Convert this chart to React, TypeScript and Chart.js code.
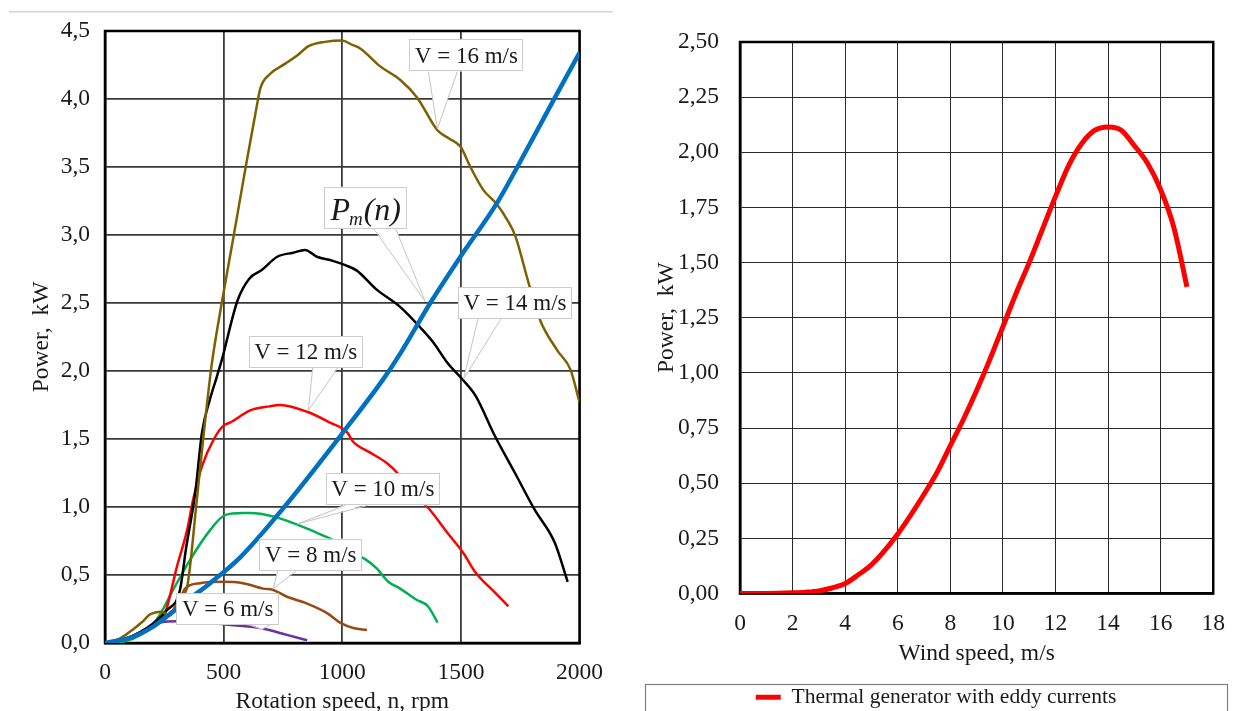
import React, { useEffect, useRef } from 'react';
import { Chart, registerables } from 'chart.js';

Chart.register(...registerables);

const FONT = "'Liberation Serif', 'Times New Roman', serif";
const TEXT = '#1a1a1a';

// ---------- Left chart: power vs rotation speed ----------
const rpmV16 = [0, 60, 118, 160, 190, 240, 270, 295, 325, 346, 388, 420, 450, 492, 543, 593, 640, 655, 693, 760, 810, 860, 927, 1000, 1040, 1077, 1160, 1245, 1316, 1401, 1450, 1498, 1540, 1595, 1650, 1696, 1730, 1785, 1835, 1907, 1962, 2000];
const powV16 = [0, 0.03, 0.10, 0.16, 0.21, 0.23, 0.20, 0.26, 0.35, 0.41, 1.07, 1.60, 2.05, 2.50, 3.00, 3.50, 3.95, 4.08, 4.18, 4.26, 4.32, 4.39, 4.42, 4.43, 4.40, 4.37, 4.24, 4.14, 4.01, 3.77, 3.71, 3.65, 3.50, 3.33, 3.23, 3.11, 2.99, 2.65, 2.37, 2.15, 2.01, 1.77];

const rpmV14 = [0, 100, 200, 260, 316, 342, 380, 409, 442, 470, 492, 559, 609, 659, 726, 793, 843, 893, 960, 1010, 1060, 1144, 1245, 1329, 1384, 1443, 1511, 1561, 1644, 1728, 1811, 1895, 1950];
const powV14 = [0, 0.04, 0.14, 0.24, 0.39, 0.70, 1.10, 1.55, 1.79, 1.95, 2.08, 2.52, 2.68, 2.74, 2.84, 2.87, 2.89, 2.84, 2.81, 2.78, 2.74, 2.60, 2.47, 2.32, 2.21, 2.06, 1.93, 1.82, 1.52, 1.25, 0.98, 0.74, 0.45];

const rpmV12 = [0, 100, 200, 253, 303, 346, 371, 409, 459, 501, 527, 612, 693, 738, 852, 949, 1020, 1046, 1118, 1190, 1232, 1300, 1359, 1443, 1511, 1561, 1644, 1700];
const powV12 = [0, 0.04, 0.13, 0.22, 0.56, 0.83, 1.05, 1.30, 1.50, 1.60, 1.62, 1.71, 1.74, 1.75, 1.70, 1.62, 1.55, 1.48, 1.40, 1.32, 1.25, 1.09, 1.00, 0.81, 0.66, 0.52, 0.37, 0.27];

const rpmV10 = [0, 80, 150, 200, 232, 287, 358, 443, 506, 582, 612, 709, 810, 920, 979, 1040, 1093, 1144, 1194, 1244, 1311, 1361, 1402];
const powV10 = [0, 0.01, 0.06, 0.13, 0.21, 0.39, 0.61, 0.83, 0.94, 0.955, 0.955, 0.93, 0.87, 0.79, 0.74, 0.66, 0.62, 0.55, 0.45, 0.40, 0.32, 0.27, 0.15];

const rpmV8 = [0, 100, 200, 260, 300, 338, 401, 498, 582, 667, 709, 767, 852, 936, 991, 1046, 1104];
const powV8 = [0, 0.03, 0.12, 0.20, 0.27, 0.40, 0.44, 0.45, 0.44, 0.40, 0.39, 0.34, 0.29, 0.22, 0.15, 0.11, 0.095];

const rpmV6 = [0, 100, 170, 232, 303, 400, 540, 654, 767, 852];
const powV6 = [0, 0.04, 0.10, 0.15, 0.16, 0.155, 0.13, 0.11, 0.06, 0.02];

const rpmPm = [0, 118, 203, 287, 360, 443, 570, 751, 1013, 1173, 1245, 1371, 1498, 1654, 1738, 1890, 2000];
const powPm = [0, 0.045, 0.12, 0.23, 0.33, 0.44, 0.63, 0.99, 1.57, 1.94, 2.13, 2.50, 2.84, 3.24, 3.50, 3.99, 4.34];

const calloutLabels = ['V = 16 m/s', 'Pm(n)', 'V = 14 m/s', 'V = 12 m/s', 'V = 10 m/s', 'V = 8 m/s', 'V = 6 m/s'];
const calloutBoxRpm = [1523, 1099, 1728, 846, 1171, 867, 517];
const calloutBoxPow = [4.32, 3.20, 2.50, 2.14, 1.13, 0.65, 0.25];
const calloutTipRpm = [1401, 1350, 1511, 857, 810, 709, 662];
const calloutTipPow = [3.78, 2.51, 1.94, 1.71, 0.875, 0.40, 0.10];

// ---------- Right chart: power vs wind speed ----------
const windSpeed = [0, 1, 2, 2.5, 3, 3.5, 4, 4.5, 5, 6, 7, 7.5, 8, 8.5, 9, 9.5, 10, 10.5, 11, 11.5, 12, 12.5, 13, 13.5, 14, 14.5, 15, 15.5, 16, 16.5, 17];
const windPower = [0, 0, 0.003, 0.006, 0.012, 0.025, 0.045, 0.085, 0.13, 0.27, 0.45, 0.55, 0.67, 0.79, 0.92, 1.06, 1.21, 1.36, 1.50, 1.65, 1.80, 1.94, 2.04, 2.10, 2.115, 2.10, 2.03, 1.95, 1.83, 1.66, 1.39];
const windSeriesName = 'Thermal generator with eddy currents';

// styling for callout wedges (px offsets of the wedge base from box centre)
const wedgeBase: [number, number][] = [[-38, -9], [8, 30], [-37, -14], [7, 32], [-37, -15], [-33, -14], [22, 42]];

const pts = (xs: number[], ys: number[]) => xs.map((x, i) => ({ x, y: ys[i] }));

const frameLeft = {
  id: 'frameLeft',
  beforeDraw(chart: any) {
    const { ctx } = chart;
    ctx.save();
    ctx.fillStyle = '#d6d6d6';
    ctx.fillRect(9, 11, 604, 1.5);
    ctx.restore();
  },
  beforeDatasetsDraw(chart: any) {
    const { ctx, chartArea: a } = chart;
    ctx.save();
    ctx.strokeStyle = '#000';
    ctx.lineWidth = 2.5;
    ctx.strokeRect(a.left, a.top, a.right - a.left, a.bottom - a.top);
    ctx.restore();
  },
  afterDatasetsDraw(chart: any) {
    const { ctx, scales } = chart;
    const x = scales.x, y = scales.y;
    ctx.save();
    calloutLabels.forEach((label, i) => {
      const cx = x.getPixelForValue(calloutBoxRpm[i]);
      const cy = y.getPixelForValue(calloutBoxPow[i]);
      const tx = x.getPixelForValue(calloutTipRpm[i]);
      const ty = y.getPixelForValue(calloutTipPow[i]);
      const isPm = label === 'Pm(n)';
      let w: number, h: number;
      const big = `italic 32px ${FONT}`;
      const sub = `italic 19px ${FONT}`;
      if (isPm) {
        ctx.font = big;
        const wP = ctx.measureText('P').width;
        const wN = ctx.measureText('(n)').width;
        ctx.font = sub;
        const wM = ctx.measureText('m').width;
        w = wP + wM + wN + 12;
        h = 42;
      } else {
        ctx.font = `23px ${FONT}`;
        w = ctx.measureText(label).width + 11;
        h = 32;
      }
      const left = cx - w / 2, top = cy - h / 2, bottom = cy + h / 2;
      const [o1, o2] = wedgeBase[i];
      ctx.beginPath();
      ctx.moveTo(cx + o1, bottom - 1);
      ctx.lineTo(tx, ty);
      ctx.lineTo(cx + o2, bottom - 1);
      ctx.closePath();
      ctx.fillStyle = '#fff';
      ctx.fill();
      ctx.beginPath();
      ctx.moveTo(cx + o1, bottom);
      ctx.lineTo(tx, ty);
      ctx.lineTo(cx + o2, bottom);
      ctx.strokeStyle = '#c4c4c4';
      ctx.lineWidth = 1;
      ctx.stroke();
      ctx.fillStyle = '#fff';
      ctx.fillRect(left, top, w, h);
      ctx.strokeStyle = '#cccccc';
      ctx.strokeRect(Math.round(left) + 0.5, Math.round(top) + 0.5, Math.round(w) - 1, Math.round(h) - 1);
      ctx.fillStyle = TEXT;
      ctx.textBaseline = 'middle';
      if (isPm) {
        let px = left + 6;
        const base = cy + 2;
        ctx.textBaseline = 'alphabetic';
        ctx.font = big;
        ctx.fillText('P', px, base + 10);
        px += ctx.measureText('P').width;
        ctx.font = sub;
        ctx.fillText('m', px - 1, base + 15);
        px += ctx.measureText('m').width;
        ctx.font = big;
        ctx.fillText('(n)', px, base + 10);
      } else {
        ctx.textAlign = 'center';
        ctx.fillText(label, cx, cy + 1);
        ctx.textAlign = 'left';
      }
    });
    ctx.restore();
  },
};

const frameRight = {
  id: 'frameRight',
  afterLayout(chart: any) {
    const lg = chart.legend;
    if (lg) {
      lg.left = 25;
      lg.right = 607;
    }
  },
  beforeDatasetsDraw(chart: any) {
    const { ctx, chartArea: a } = chart;
    ctx.save();
    ctx.strokeStyle = '#000';
    ctx.lineWidth = 2.5;
    ctx.strokeRect(a.left, a.top, a.right - a.left, a.bottom - a.top);
    ctx.restore();
  },
  afterDraw(chart: any) {
    const { ctx } = chart;
    const lg = chart.legend;
    ctx.save();
    ctx.strokeStyle = '#7f7f7f';
    ctx.lineWidth = 1.2;
    ctx.strokeRect(25.5, Math.round(lg.top) + 0.5, 582, 80);
    ctx.restore();
  },
};

const tickFont = { family: FONT, size: 23.5 };

export default function App() {
  const leftRef = useRef<HTMLCanvasElement>(null);
  const rightRef = useRef<HTMLCanvasElement>(null);

  useEffect(() => {
    const line = (label: string, xs: number[], ys: number[], color: string, width: number, order: number) => ({
      label,
      data: pts(xs, ys),
      borderColor: color,
      backgroundColor: color,
      borderWidth: width,
      pointRadius: 0,
      cubicInterpolationMode: 'monotone' as const,
      order,
    });

    const left = new Chart(leftRef.current!, {
      type: 'line',
      data: {
        datasets: [
          line('Pm(n)', rpmPm, powPm, '#0070C0', 4.5, 0),
          line('V = 16 m/s', rpmV16, powV16, '#7F6000', 2.5, 1),
          line('V = 14 m/s', rpmV14, powV14, '#000000', 2.5, 1),
          line('V = 12 m/s', rpmV12, powV12, '#FF0000', 2.5, 1),
          line('V = 10 m/s', rpmV10, powV10, '#00B050', 2.5, 1),
          line('V = 8 m/s', rpmV8, powV8, '#984A14', 2.5, 1),
          line('V = 6 m/s', rpmV6, powV6, '#7030A0', 2.5, 1),
        ],
      },
      options: {
        animation: false,
        responsive: false,
        layout: { padding: { top: 31, right: 20, left: 0, bottom: 0 } },
        plugins: { legend: { display: false }, tooltip: { enabled: false } },
        scales: {
          x: {
            type: 'linear',
            min: 0,
            max: 2000,
            ticks: { stepSize: 500, padding: 16, font: tickFont, color: TEXT, maxRotation: 0, callback: (v: any) => String(v) },
            grid: { color: '#3a3a3a', lineWidth: 1.8, drawTicks: false },
            border: { display: true, color: '#000', width: 2.5 },
            title: { display: true, text: 'Rotation speed, n, rpm', font: tickFont, color: TEXT, padding: { top: 0, bottom: 4 } },
            afterFit: (s: any) => { s.height = 77; },
          },
          y: {
            type: 'linear',
            min: 0,
            max: 4.5,
            ticks: { stepSize: 0.5, padding: 15, font: tickFont, color: TEXT, callback: (v: any) => Number(v).toFixed(1).replace('.', ',') },
            grid: { color: '#3a3a3a', lineWidth: 1.8, drawTicks: false },
            border: { display: true, color: '#000', width: 2.5 },
            title: { display: true, text: 'Power,  kW', font: tickFont, color: TEXT, padding: { top: 28, bottom: 0 } },
            afterFit: (s: any) => { s.width = 105; },
          },
        },
      },
      plugins: [frameLeft],
    } as any);

    const right = new Chart(rightRef.current!, {
      type: 'line',
      data: {
        datasets: [
          {
            label: windSeriesName,
            data: pts(windSpeed, windPower),
            borderColor: '#FF0000',
            backgroundColor: '#FF0000',
            borderWidth: 5,
            pointRadius: 0,
            cubicInterpolationMode: 'monotone',
          },
        ],
      },
      options: {
        animation: false,
        responsive: false,
        layout: { padding: { top: 42, right: 14, left: 20, bottom: 0 } },
        plugins: {
          tooltip: { enabled: false },
          legend: {
            display: true,
            position: 'bottom',
            labels: {
              boxWidth: 25,
              boxHeight: 5,
              padding: 3,
              font: { family: FONT, size: 21.5 },
              color: TEXT,
              generateLabels: () => [
                {
                  text: windSeriesName,
                  fillStyle: '#FF0000',
                  strokeStyle: '#FF0000',
                  lineWidth: 0,
                  hidden: false,
                  datasetIndex: 0,
                  fontColor: TEXT,
                },
              ],
            },
          },
        },
        scales: {
          x: {
            type: 'linear',
            min: 0,
            max: 18,
            ticks: { stepSize: 2, padding: 16, font: tickFont, color: TEXT, maxRotation: 0 },
            grid: { color: '#2a2a2a', lineWidth: 1, drawTicks: false },
            border: { display: true, color: '#000', width: 2.5 },
            title: { display: true, text: 'Wind speed, m/s', font: tickFont, color: TEXT, padding: { top: 0, bottom: 16 } },
            afterFit: (s: any) => { s.height = 90; },
          },
          y: {
            type: 'linear',
            min: 0,
            max: 2.5,
            ticks: { stepSize: 0.25, padding: 21, font: tickFont, color: TEXT, callback: (v: any) => Number(v).toFixed(2).replace('.', ',') },
            grid: { color: '#2a2a2a', lineWidth: 1, drawTicks: false },
            border: { display: true, color: '#000', width: 2.5 },
            title: { display: true, text: 'Power,  kW', font: tickFont, color: TEXT, padding: { top: 13, bottom: 0 } },
            afterFit: (s: any) => { s.width = 100; },
          },
        },
      },
      plugins: [frameRight],
    } as any);

    return () => {
      left.destroy();
      right.destroy();
    };
  }, []);

  return (
    <div style={{ position: 'absolute', left: 0, top: 0, width: 1234, height: 711, overflow: 'hidden', background: '#fff' }}>
      <canvas ref={leftRef} width={619} height={720} style={{ position: 'absolute', left: 0, top: 0, width: 619, height: 720 }} />
      <canvas ref={rightRef} width={621} height={718} style={{ position: 'absolute', left: 620, top: 0, width: 621, height: 718 }} />
    </div>
  );
}
